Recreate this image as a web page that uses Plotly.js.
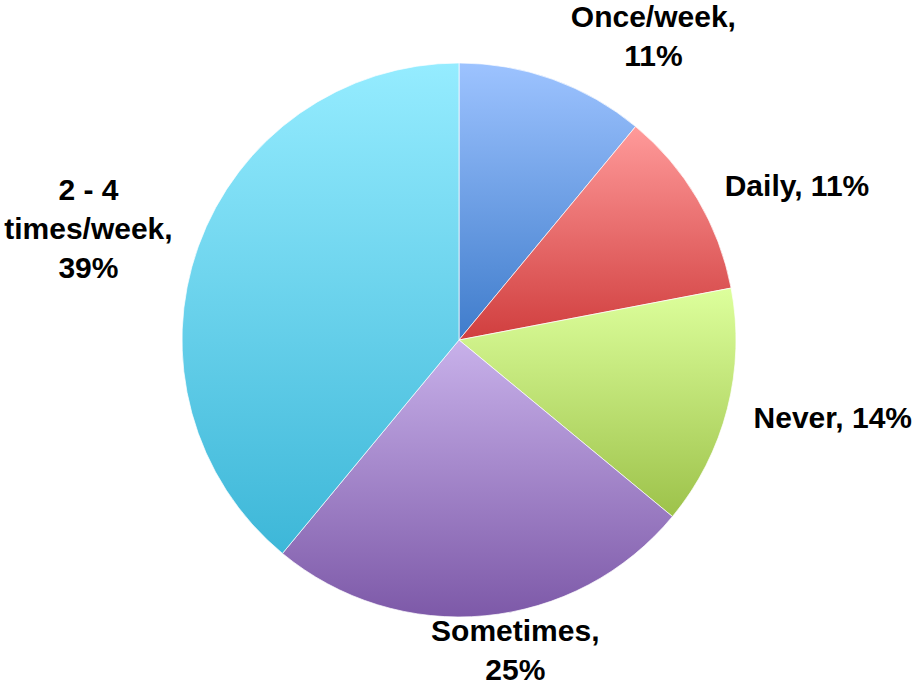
<!DOCTYPE html>
<html>
<head>
<meta charset="utf-8">
<script src="https://cdn.plot.ly/plotly-3.0.1.min.js"></script>
<style>html,body{margin:0;padding:0;background:#fff;}#chart{width:915px;height:686px;}</style>
</head>
<body>
<div id="chart"></div>
<script>
const categories = ["Once/week", "Daily", "Never", "Sometimes", "2 - 4 times/week"];
const values = [11, 11, 14, 25, 39];
const labelTexts = ["Once/week,<br>11%", "Daily, 11%", "Never, 14%", "Sometimes,<br>25%", "2 - 4<br>times/week,<br>39%"];
const sliceColors = ["#6E9DE6", "#E87070", "#BEDD75", "#A285C9", "#68CDE9"];
const gradientTop = ["#9DC3FF", "#FF9A9A", "#DDFF9C", "#C8B1EA", "#95ECFF"];
const gradientBottom = ["#3F7CCB", "#D03E3E", "#9DC24A", "#7D59A8", "#3DB7D8"];
// small pixel nudges for the outside labels (layout styling only)
const labelNudge = [[0, -11], [19, -9], [18, 8], [-72, -1], [2, -11]];

const trace = {
  type: "pie",
  labels: categories,
  values: values,
  text: labelTexts,
  textinfo: "text",
  texttemplate: "%{text}",
  textposition: "outside",
  sort: false,
  direction: "clockwise",
  rotation: 0,
  hole: 0,
  marker: {colors: sliceColors, line: {color: "rgba(255,255,255,0.7)", width: 1}},
  outsidetextfont: {family: "Liberation Sans, Arial, sans-serif", size: 30, color: "#000", weight: "bold"},
  textfont: {family: "Liberation Sans, Arial, sans-serif", size: 30, color: "#000", weight: "bold"},
  domain: {x: [0.1989, 0.8044], y: [0.1006, 0.9082]},
  showlegend: false,
  automargin: false
};

const layout = {
  width: 915, height: 686,
  margin: {l: 0, r: 0, t: 0, b: 0},
  paper_bgcolor: "#fff",
  plot_bgcolor: "#fff",
  showlegend: false
};

function applyStyling(gd) {
  const svg = gd.querySelector(".main-svg");
  if (!svg) return;
  const NS = "http://www.w3.org/2000/svg";
  let defs = svg.querySelector("defs");
  if (!defs) { defs = document.createElementNS(NS, "defs"); svg.insertBefore(defs, svg.firstChild); }
  const slices = gd.querySelectorAll("g.slice");
  slices.forEach(function (g, i) {
    if (i >= gradientTop.length) return;
    const p = g.querySelector("path.surface");
    if (p) {
      const id = "sliceGrad" + i;
      const lg = document.createElementNS(NS, "linearGradient");
      lg.setAttribute("id", id);
      lg.setAttribute("x1", "0"); lg.setAttribute("y1", "0");
      lg.setAttribute("x2", "0"); lg.setAttribute("y2", "1");
      const s1 = document.createElementNS(NS, "stop");
      s1.setAttribute("offset", "0"); s1.setAttribute("stop-color", gradientTop[i]);
      const s2 = document.createElementNS(NS, "stop");
      s2.setAttribute("offset", "1"); s2.setAttribute("stop-color", gradientBottom[i]);
      lg.appendChild(s1); lg.appendChild(s2);
      defs.appendChild(lg);
      p.style.fill = "url(#" + id + ")";
    }
    const t = g.querySelector("g.slicetext");
    if (t && labelNudge[i]) {
      t.setAttribute("transform", "translate(" + labelNudge[i][0] + "," + labelNudge[i][1] + ")");
    }
  });
}

Plotly.newPlot("chart", [trace], layout, {displayModeBar: false, staticPlot: true})
  .then(applyStyling);
</script>
</body>
</html>
